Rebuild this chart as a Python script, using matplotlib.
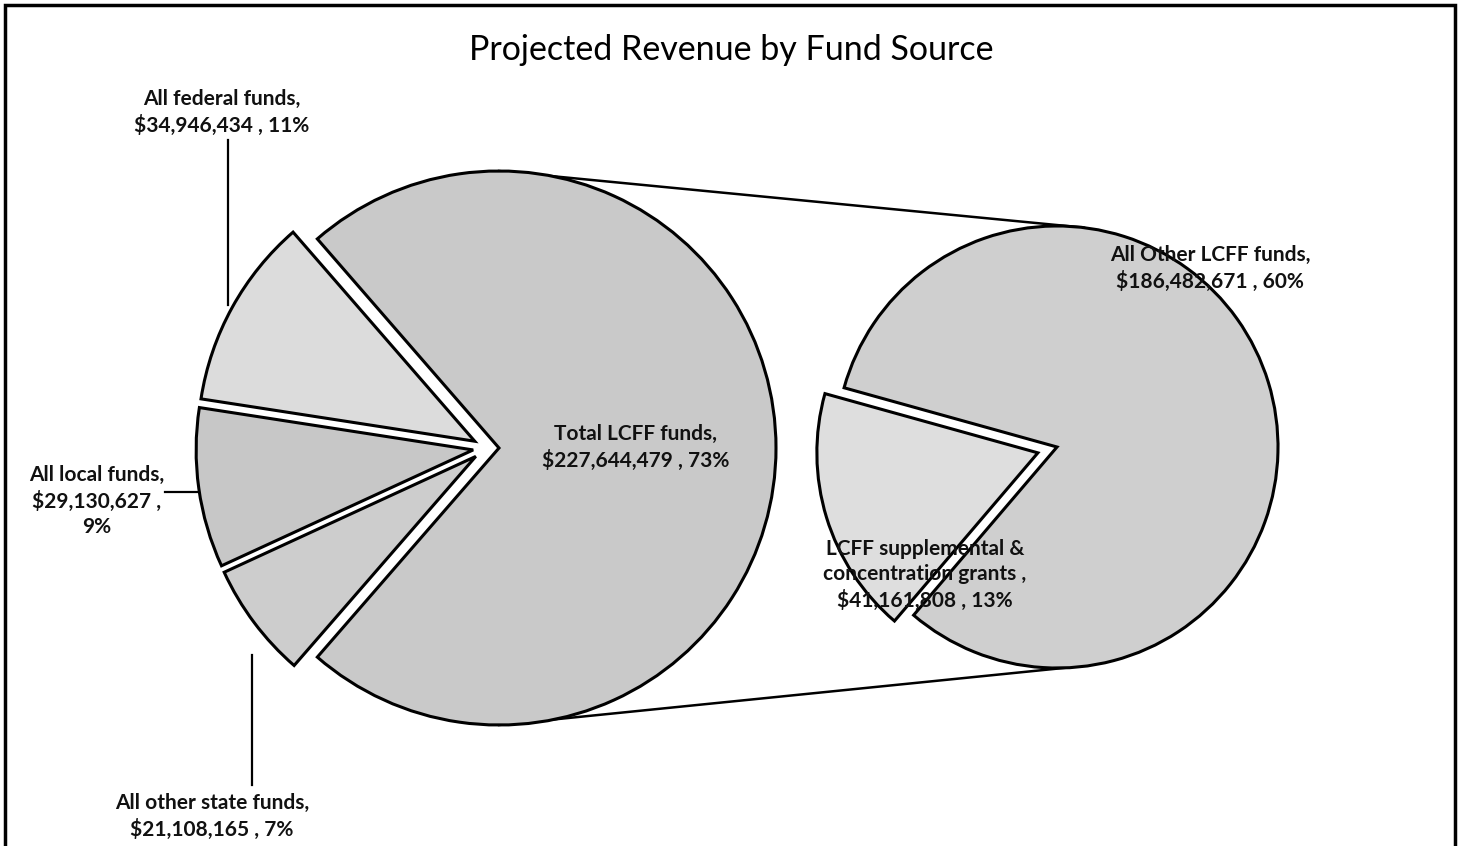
import matplotlib.pyplot as plt
import numpy as np

plt.rcParams["font.family"] = ["Lato", "DejaVu Sans"]

TITLE = "Projected Revenue by Fund Source"

# main pie: LCFF first, then the three small sources (counter-clockwise)
main_labels = ["Total LCFF funds", "All federal funds", "All local funds", "All other state funds"]
main_values = [227644479, 34946434, 29130627, 21108165]
main_pcts = [73, 11, 9, 7]
main_colors = ["#c9c9c9", "#dcdcdc", "#c7c7c7", "#cdcdcd"]

# secondary pie: breakdown of LCFF
sub_labels = ["All Other LCFF funds", "LCFF supplemental &\nconcentration grants"]
sub_values = [186482671, 41161808]
sub_pcts = [60, 13]
sub_colors = ["#cfcfcf", "#dedede"]

W, H = 1461, 846
MAIN_C = (487, 398)
MAIN_R = 277
SUB_C = (1057, 399)
SUB_R = 221

# explode offsets (pie() takes them in data units)
MAIN_EXPLODE = [12, 14, 14, 14]
SUB_EXPLODE = [0, 20]


def money(v):
    return f"${v:,}"


fig = plt.figure(figsize=(W / 100, H / 100), dpi=100)
ax = fig.add_axes([0, 0, 1, 1])

# small slices sit on the left, centred on 180 degrees
small_share = sum(main_values[1:]) / sum(main_values)
start = 180 + small_share * 360 / 2
ax.pie(
    main_values,
    center=MAIN_C,
    radius=MAIN_R,
    startangle=start,
    counterclock=True,
    colors=main_colors,
    explode=MAIN_EXPLODE,
    wedgeprops={"edgecolor": "black", "linewidth": 2.2},
    frame=True,
)

sub_share = sub_values[1] / sum(sub_values)
sub_start = 197 + sub_share * 360 / 2
ax.pie(
    sub_values,
    center=SUB_C,
    radius=SUB_R,
    startangle=sub_start,
    counterclock=True,
    colors=sub_colors,
    explode=SUB_EXPLODE,
    wedgeprops={"edgecolor": "black", "linewidth": 2.2},
    frame=True,
)
ax.set_xlim(0, W)
ax.set_ylim(0, H)
ax.set_aspect("equal")
ax.axis("off")

# connector lines between the LCFF wedge and the secondary pie
lcff_x = MAIN_C[0] + MAIN_EXPLODE[0]
for a_main, a_sub in [(90, 83), (-90, -88)]:
    x0 = lcff_x + MAIN_R * np.cos(np.radians(a_main))
    y0 = MAIN_C[1] + MAIN_R * np.sin(np.radians(a_main))
    x1 = SUB_C[0] + SUB_R * np.cos(np.radians(a_sub))
    y1 = SUB_C[1] + SUB_R * np.sin(np.radians(a_sub))
    ax.plot([x0, x1], [y0, y1], color="black", lw=1.8, zorder=0)

lab = dict(fontsize=15, fontweight="bold", ha="center", va="center", color="#111111", linespacing=1.35)

# leader lines
ax.plot([228, 228], [H - 140, H - 305], color="black", lw=1.6, zorder=0)
ax.plot([165, 197], [H - 492, H - 492], color="black", lw=1.6, zorder=0)
ax.plot([252, 252], [H - 785, H - 655], color="black", lw=1.6, zorder=0)

ax.text(222, H - 112, f"{main_labels[1]},\n{money(main_values[1])} , {main_pcts[1]}%", **lab)
ax.text(97, H - 501, f"{main_labels[2]},\n{money(main_values[2])} ,\n{main_pcts[2]}%", **lab)
ax.text(212, H - 816, f"{main_labels[3]},\n{money(main_values[3])} , {main_pcts[3]}%", **lab)
ax.text(636, H - 447, f"{main_labels[0]},\n{money(main_values[0])} , {main_pcts[0]}%", **lab)
ax.text(1210, H - 268, f"{sub_labels[0]},\n{money(sub_values[0])} , {sub_pcts[0]}%", **lab)
ax.text(925, H - 575, f"{sub_labels[1]} ,\n{money(sub_values[1])} , {sub_pcts[1]}%", **lab)

ax.text(731, H - 50, TITLE, fontsize=24.5, ha="center", va="center", color="black")

# outer frame (top, left, right)
ax.plot([5, 5, W - 6, W - 6], [0, H - 5, H - 5, 0], color="black", lw=2.5, zorder=5,
        solid_joinstyle="miter")

fig.savefig("out.png", dpi=100, facecolor="white")
